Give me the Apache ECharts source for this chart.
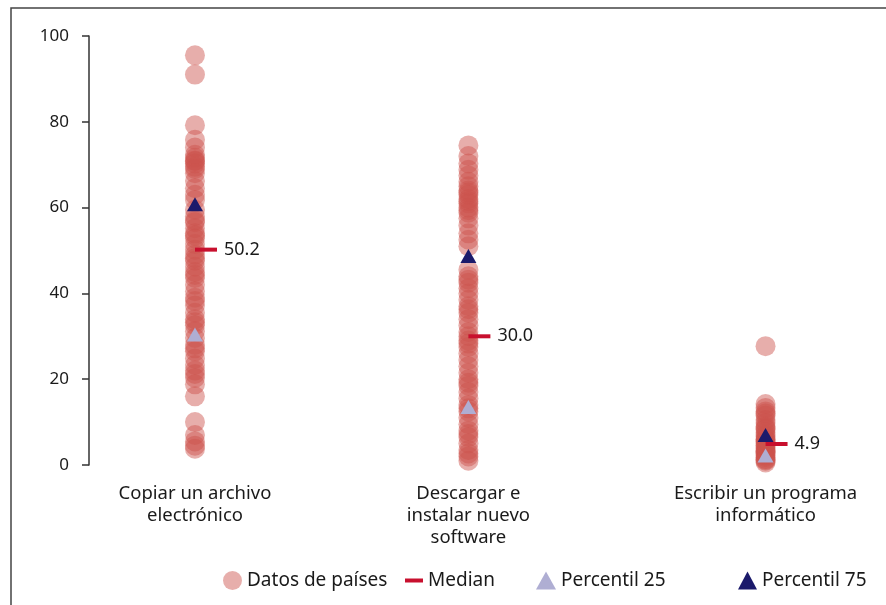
<!DOCTYPE html>
<html>
<head>
<meta charset="utf-8">
<script src="https://cdn.jsdelivr.net/npm/echarts@6/dist/echarts.min.js"></script>
<style>
html,body{margin:0;padding:0;background:#fff;}
#chart{width:886px;height:605px;}
</style>
</head>
<body>
<div id="chart"></div>
<script>
// ---- data ----
const categories = ['Copiar un archivo\nelectrónico', 'Descargar e\ninstalar nuevo\nsoftware', 'Escribir un programa\ninformático'];
const copiar = [95.5, 91.0, 79.2, 75.8, 74.0, 72.3, 71.6, 71.0, 70.8, 70.3, 69.5, 69.0, 68.0, 66.2, 64.5, 63.0, 61.8, 59.5, 58.0, 57.0, 56.6, 55.2, 54.0, 53.5, 52.8, 51.5, 50.2, 49.0, 48.2, 47.6, 46.2, 45.0, 44.3, 43.6, 42.0, 40.5, 39.0, 38.2, 37.2, 35.5, 34.0, 33.3, 32.6, 31.2, 29.6, 28.0, 27.2, 26.5, 24.8, 23.3, 22.0, 21.2, 20.3, 18.8, 16.0, 10.0, 7.0, 5.5, 4.5, 3.8];
const descargar = [74.5, 72.0, 70.3, 68.8, 67.5, 66.0, 65.0, 64.0, 63.5, 63.0, 62.0, 61.5, 61.0, 60.0, 59.4, 58.8, 57.5, 55.8, 54.0, 52.5, 51.0, 45.5, 44.0, 43.2, 42.5, 41.2, 40.0, 38.5, 37.0, 36.3, 35.5, 34.0, 32.5, 31.0, 30.0, 29.0, 28.3, 27.5, 26.0, 24.5, 23.0, 21.5, 20.0, 19.2, 18.5, 17.0, 15.5, 14.0, 13.2, 12.5, 11.0, 9.5, 8.0, 7.2, 6.5, 5.0, 3.5, 2.7, 2.0, 1.0];
const escribir = [27.7, 14.2, 13.3, 12.5, 12.0, 11.5, 10.5, 9.8, 9.0, 8.6, 8.3, 7.6, 7.0, 6.5, 6.0, 5.8, 5.5, 5.0, 4.6, 4.2, 3.8, 3.4, 3.2, 3.0, 2.6, 2.2, 1.8, 1.4, 1.2, 1.0, 0.6];
const medians = [50.2, 30.0, 4.9];
const p25 = [30.4, 13.5, 2.2];
const p75 = [60.8, 48.7, 7.0];
const yTicks = [0, 20, 40, 60, 80, 100];

// ---- layout (horizontal placement of the three columns, in x-axis units) ----
const catPos = [15.14, 54.2, 96.65];

const countryValues = [copiar, descargar, escribir];
const scatterData = [];
countryValues.forEach((arr, i) => arr.forEach(v => scatterData.push([catPos[i], v])));
const medData = medians.map((v, i) => [catPos[i], v]);
const p25Data = p25.map((v, i) => [catPos[i], v]);
const p75Data = p75.map((v, i) => [catPos[i], v]);

const FONT = 'Noto Sans';
const chart = echarts.init(document.getElementById('chart'));
const legendBase = {
  orient: 'horizontal', top: 566, itemGap: 0,
  textStyle: { fontFamily: FONT, fontSize: 19, color: '#1a1a1a' }
};
chart.setOption({
  animation: false,
  graphic: [{
    type: 'rect', shape: { x: 11, y: 8, width: 900, height: 700 },
    style: { fill: 'none', stroke: '#444', lineWidth: 1.5 }, silent: true
  }],
  grid: { left: 89, top: 36, width: 700, bottom: 140 },
  xAxis: {
    type: 'value', min: 0, max: 100,
    axisLine: { show: false }, axisTick: { show: false }, splitLine: { show: false },
    axisLabel: {
      customValues: catPos,
      formatter: (v) => { const i = catPos.indexOf(v); return i >= 0 ? categories[i] : ''; },
      fontFamily: FONT, fontSize: 18.5, color: '#1a1a1a', lineHeight: 22, margin: 18, align: 'center'
    }
  },
  yAxis: {
    type: 'value', min: 0, max: 100, interval: 20,
    axisLine: { show: true, lineStyle: { color: '#333', width: 1.5 } },
    axisTick: { show: true, length: 7, lineStyle: { color: '#333', width: 1.5 } },
    splitLine: { show: false },
    axisLabel: {
      fontFamily: FONT, fontSize: 17, color: '#1a1a1a', margin: 20,
      formatter: (v) => yTicks.includes(v) ? String(v) : ''
    }
  },
  legend: [
    Object.assign({}, legendBase, { left: 218, data: [{ name: 'Datos de países', icon: 'circle' }], itemWidth: 19, itemHeight: 19 }),
    Object.assign({}, legendBase, { left: 400, data: [{ name: 'Median', icon: 'rect' }], itemWidth: 18, itemHeight: 4 }),
    Object.assign({}, legendBase, { left: 531, data: [{ name: 'Percentil 25', icon: 'triangle' }], itemWidth: 20, itemHeight: 18 }),
    Object.assign({}, legendBase, { left: 733, data: [{ name: 'Percentil 75', icon: 'triangle' }], itemWidth: 19, itemHeight: 18 })
  ],
  series: [
    {
      name: 'Datos de países', type: 'scatter', data: scatterData,
      symbol: 'circle', symbolSize: 20,
      itemStyle: { color: 'rgba(205,82,76,0.47)', opacity: 1 }, z: 2
    },
    {
      name: 'Percentil 25', type: 'scatter', data: p25Data,
      symbol: 'triangle', symbolSize: [16, 14],
      itemStyle: { color: '#AFAED3', opacity: 1 }, z: 3
    },
    {
      name: 'Percentil 75', type: 'scatter', data: p75Data,
      symbol: 'triangle', symbolSize: [16, 14],
      itemStyle: { color: '#1B1A6B', opacity: 1 }, z: 4
    },
    {
      name: 'Median', type: 'scatter', data: medData,
      symbol: 'rect', symbolSize: [22, 4], symbolOffset: [11, 0],
      itemStyle: { color: '#C8102E', opacity: 1 }, z: 5,
      label: {
        show: true, position: 'right', distance: 7,
        formatter: (p) => p.value[1].toFixed(1),
        fontFamily: FONT, fontSize: 18, color: '#1a1a1a'
      }
    }
  ]
});
</script>
</body>
</html>
